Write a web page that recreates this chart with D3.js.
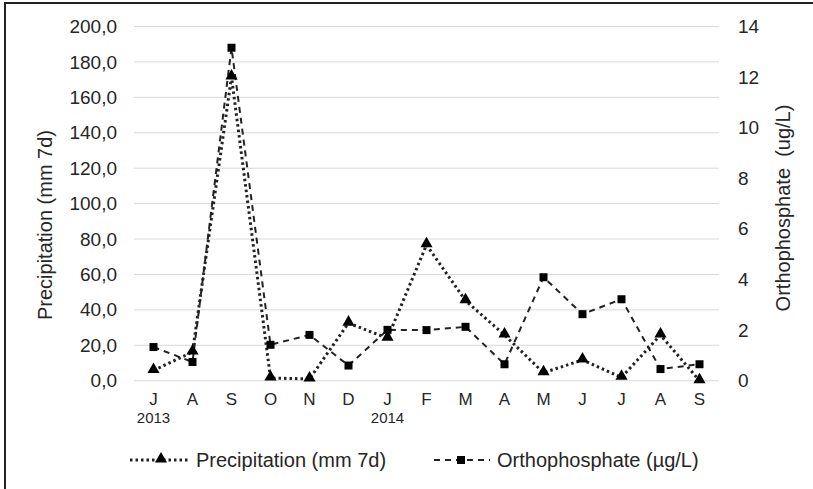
<!DOCTYPE html>
<html><head><meta charset="utf-8">
<script src="https://cdn.jsdelivr.net/npm/d3@7/dist/d3.min.js"></script>
<style>
body{margin:0;background:#fff;}
text{font-family:"Liberation Sans",Arial,sans-serif;}
</style></head>
<body><svg id="chart" width="813" height="489"></svg>
<script>
const months = ["J","A","S","O","N","D","J","F","M","A","M","J","J","A","S"];
const years = [{i:0,label:"2013"},{i:6,label:"2014"}];
const precipitation = [5.8,16.2,171.5,1.5,1.0,32.5,24.0,76.7,45.2,25.8,4.5,11.7,1.9,25.8,0.0];
const orthophosphate = [1.33,0.74,13.16,1.42,1.81,0.60,2.01,2.00,2.13,0.65,4.09,2.63,3.22,0.46,0.65];
const leftTicks = [0,20,40,60,80,100,120,140,160,180,200];
const rightTicks = [0,2,4,6,8,10,12,14];

const svg = d3.select("#chart");
svg.append("rect").attr("width",813).attr("height",489).attr("fill","#fff");
svg.append("path").attr("d","M5,489V3H813").attr("fill","none").attr("stroke","#222").attr("stroke-width",2);

const L=134, R=719, T=26.5, B=380.7;
const x = d3.scaleBand().domain(d3.range(months.length)).range([L,R]);
const cx = i => x(i)+x.bandwidth()/2;
const yL = d3.scaleLinear().domain([0,200]).range([B,T]);
const yR = d3.scaleLinear().domain([0,14]).range([B,T]);
const txt = "#262626";

// gridlines
svg.append("g").selectAll("line").data(leftTicks).join("line")
  .attr("x1",L).attr("x2",R).attr("y1",d=>yL(d)).attr("y2",d=>yL(d))
  .attr("stroke","#d9d9d9").attr("stroke-width",1);

// left axis
const gl = svg.append("g").attr("transform",`translate(${L},0)`)
  .call(d3.axisLeft(yL).tickValues(leftTicks).tickSize(0).tickPadding(17)
    .tickFormat(d=>d.toFixed(1).replace(".",",")));
gl.select(".domain").remove();
gl.selectAll("text").attr("font-size",19).attr("fill",txt).attr("font-family","Liberation Sans, Arial, sans-serif");

// right axis
const gr = svg.append("g").attr("transform",`translate(${R},0)`)
  .call(d3.axisRight(yR).tickValues(rightTicks).tickSize(0).tickPadding(19));
gr.select(".domain").remove();
gr.selectAll("text").attr("font-size",19).attr("fill",txt).attr("font-family","Liberation Sans, Arial, sans-serif");

// x labels
const gx = svg.append("g").attr("transform",`translate(0,${B})`)
  .call(d3.axisBottom(x).tickSize(0).tickPadding(12).tickFormat(i=>months[i]));
gx.select(".domain").remove();
gx.selectAll("text").attr("font-size",17).attr("fill",txt).attr("font-family","Liberation Sans, Arial, sans-serif");
svg.append("g").selectAll("text").data(years).join("text")
  .attr("x",d=>cx(d.i)).attr("y",423).attr("text-anchor","middle")
  .attr("font-size",15).attr("fill",txt).text(d=>d.label);

// axis titles
svg.append("text").attr("transform","translate(52,225) rotate(-90)")
  .attr("text-anchor","middle").attr("font-size",20).attr("fill",txt)
  .text("Precipitation (mm 7d)");
svg.append("text").attr("transform","translate(790,208) rotate(-90)")
  .attr("text-anchor","middle").attr("font-size",20).attr("fill",txt)
  .style("white-space","pre").text("Orthophosphate  (ug/L)");

// lines
const lineP = d3.line().x((d,i)=>cx(i)).y(d=>yL(d));
const lineO = d3.line().x((d,i)=>cx(i)).y(d=>yR(d));
svg.append("path").datum(orthophosphate).attr("d",lineO).attr("fill","none")
  .attr("stroke","#222").attr("stroke-width",2).attr("stroke-dasharray","6,5");
svg.append("path").datum(precipitation).attr("d",lineP).attr("fill","none")
  .attr("stroke","#222").attr("stroke-width",3).attr("stroke-dasharray","2.5,3");

const tri = d3.symbol().type(d3.symbolTriangle).size(64);
const sq = d3.symbol().type(d3.symbolSquare).size(64);
svg.append("g").selectAll("path").data(orthophosphate).join("path")
  .attr("transform",(d,i)=>`translate(${cx(i)},${yR(d)})`).attr("d",sq).attr("fill","#000");
svg.append("g").selectAll("path").data(precipitation).join("path")
  .attr("transform",(d,i)=>`translate(${cx(i)},${yL(d)-1})`).attr("d",tri).attr("fill","#000");

// legend
const lg = svg.append("g");
lg.append("line").attr("x1",130).attr("x2",190).attr("y1",460).attr("y2",460)
  .attr("stroke","#222").attr("stroke-width",3).attr("stroke-dasharray","2.5,3");
lg.append("path").attr("transform","translate(161,459)").attr("d",tri).attr("fill","#000");
lg.append("text").attr("x",196).attr("y",467).attr("font-size",20).attr("fill",txt).text("Precipitation (mm 7d)");
lg.append("line").attr("x1",434).attr("x2",490).attr("y1",460).attr("y2",460)
  .attr("stroke","#222").attr("stroke-width",2).attr("stroke-dasharray","6,5");
lg.append("path").attr("transform","translate(461,460)").attr("d",sq).attr("fill","#000");
lg.append("text").attr("x",497).attr("y",467).attr("font-size",20).attr("fill",txt).text("Orthophosphate (µg/L)");
</script></body></html>
